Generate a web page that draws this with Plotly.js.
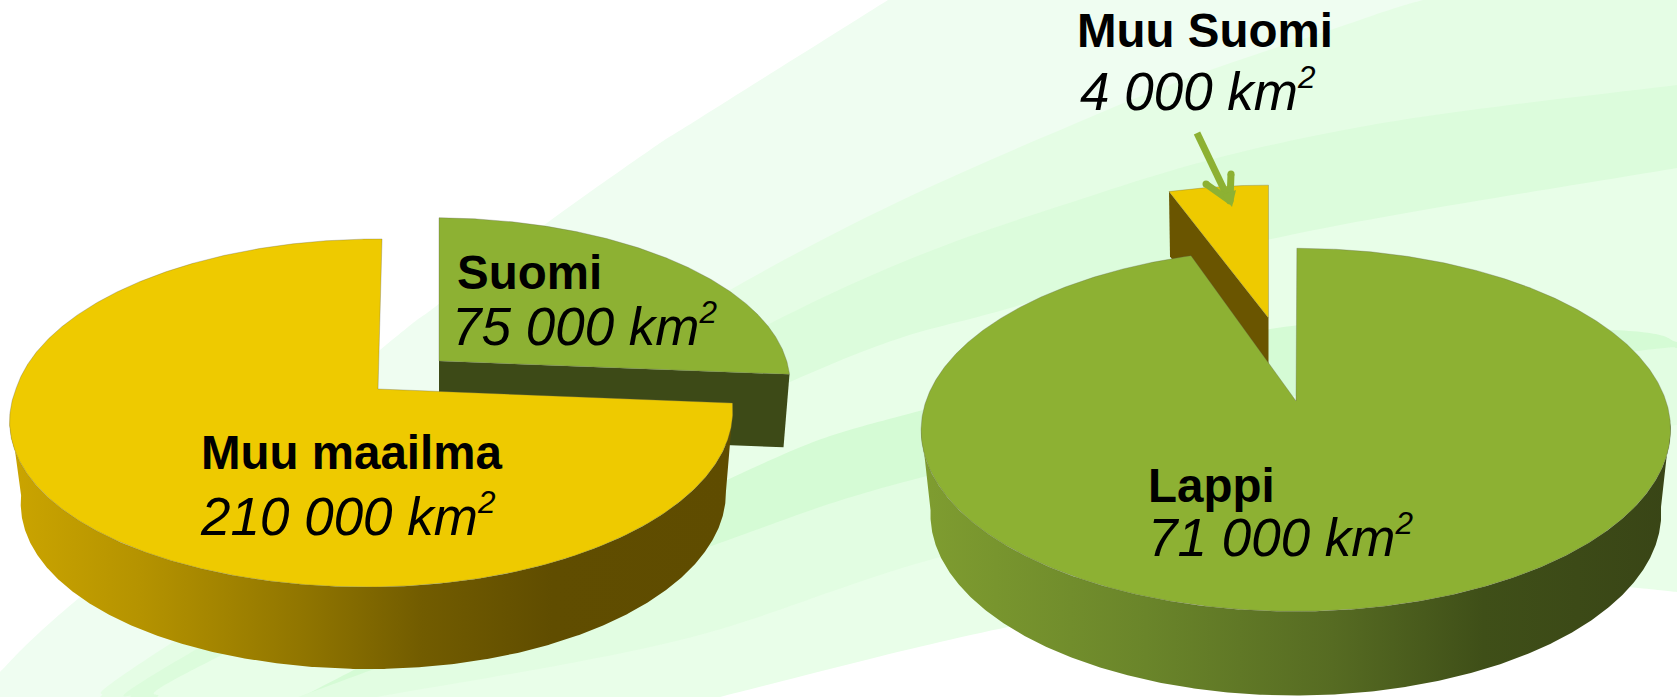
<!DOCTYPE html>
<html><head><meta charset="utf-8">
<script src="https://cdn.plot.ly/plotly-3.0.1.min.js"></script>
<style>html,body{margin:0;padding:0;background:#fff;overflow:hidden}#c{width:1677px;height:697px}</style>
</head><body><div id="c"></div>
<script>
// ---- data (km²) ----
const worldLabels = ["Suomi", "Muu maailma"];
const worldValues = [75000, 210000];
const finlandLabels = ["Muu Suomi", "Lappi"];
const finlandValues = [4000, 71000];

// ---- palette ----
const YELLOW = "#eeca00", GREEN = "#8db133", DARK_Y = "#6a5500", DARK_G = "#3d4a17";
const WALL_Y = [[0,"#cba500"],[0.18,"#b59300"],[0.4,"#917600"],[0.57,"#725c00"],[0.75,"#604d00"],[1,"#5f4c00"]];
const WALL_G = [[0,"#7f9d30"],[0.3,"#6a852a"],[0.55,"#566b22"],[0.75,"#3f4f18"],[1,"#394516"]];

// ---- perspective view of each disc ----
const viewMain   = {ax:378,  ay:389, A:357,   B:170.7, C:-4.6, k:0.138, m:0.014, F:13};
const viewSuomi  = {ax:439,  ay:361, A:354,   B:163,   C:0,    k:0.138, m:0.018, F:0};
const viewLappi  = {ax:1296, ay:401, A:370,   B:177,   C:-1,   k:0.159, m:0,     F:0};
const viewMuuS   = {ax:1268.5,ay:318,A:348,   B:154,   C:0,    k:0.159, m:0,     F:0};
const depthMain  = {dx:2, dy:82, s:0.975};
const depthLappi = {dx:0, dy:84, s:0.975};

function project(v, deg, d) {
  const a = deg * Math.PI / 180, u = Math.sin(a), w = -Math.cos(a);
  const den = 1 - v.k * w + v.m * u, s = d ? d.s : 1;
  const bulge = v.F * Math.max(-u, 0) * Math.max(w, 0);
  return [v.ax + (d ? d.dx : 0) + s * (v.A * u + v.C * w) / den - bulge,
          v.ay + (d ? d.dy : 0) + v.B * w / den];
}
function arc(v, from, to, d) {
  const n = Math.max(2, Math.ceil(Math.abs(to - from) * 3)), pts = [];
  for (let i = 0; i <= n; i++) pts.push(project(v, from + (to - from) * i / n, d));
  return pts;
}
function face(name, pts, color) {
  return {name, type:"scatter", mode:"lines", x:pts.map(p=>p[0]), y:pts.map(p=>p[1]), fill:"toself",
    fillcolor:color, line:{color:"rgba(95,95,80,0.5)", width:0.6}, hoverinfo:"skip", showlegend:false};
}
function wedge(name, v, from, to, color) {
  return face(name, [[v.ax, v.ay]].concat(arc(v, from, to), [[v.ax, v.ay]]), color);
}
function sideWall(name, v, from, to, d, scale) {
  const a = Math.max(from, 97), b = Math.min(to, 262);
  const pts = arc(v, a, b, d).concat(arc(v, b, a));
  pts.push(pts[0]);
  return {name, type:"scatter", mode:"lines", x:pts.map(p=>p[0]), y:pts.map(p=>p[1]), fill:"toself",
    fillgradient:{type:"horizontal", colorscale:scale}, line:{width:0, color:"rgba(0,0,0,0)"},
    hoverinfo:"skip", showlegend:false};
}
function cutWall(name, v, deg, dx, dy, color) {
  const c = project(v, deg);
  const pts = [[v.ax,v.ay], c, [c[0]+dx,c[1]+dy], [v.ax,v.ay+dy], [v.ax,v.ay]];
  return {name, type:"scatter", mode:"lines", x:pts.map(p=>p[0]), y:pts.map(p=>p[1]), fill:"toself",
    fillcolor:color, line:{width:0, color:color}, hoverinfo:"skip", showlegend:false};
}

// angles from the values, clockwise from 12 o'clock
const wTot = worldValues[0] + worldValues[1], wEnd = 360 * worldValues[0] / wTot;
const fTot = finlandValues[0] + finlandValues[1], fCut = 360 * finlandValues[0] / fTot;

const traces = [
  cutWall("Suomi cut", viewSuomi, wEnd, -6, 73, DARK_G),
  wedge(worldLabels[0], viewSuomi, 0, wEnd, GREEN),
  sideWall("Muu maailma side", viewMain, wEnd, 360, depthMain, WALL_Y),
  wedge(worldLabels[1], viewMain, wEnd, 360, YELLOW),
  cutWall("Muu Suomi cut", viewMuuS, -fCut, 1, 65, DARK_Y),
  wedge(finlandLabels[0], viewMuuS, -fCut, 0, YELLOW),
  sideWall("Lappi side", viewLappi, 0, 360 - fCut, depthLappi, WALL_G),
  wedge(finlandLabels[1], viewLappi, 0, 360 - fCut, GREEN),
  {name:"pointer shaft", type:"scatter", mode:"lines", x:[1197,1229], y:[133,200],
   line:{color:GREEN, width:7}, hoverinfo:"skip", showlegend:false},
  {name:"pointer head", type:"scatter", mode:"lines+markers", x:[1206,1230,1231], y:[184,201,174],
   line:{color:GREEN, width:7}, marker:{color:GREEN, size:7}, hoverinfo:"skip", showlegend:false},
  {name:"pointer tip", type:"scatter", mode:"lines", x:[1232,1222,1236,1232], y:[207,195,190,207], fill:"toself",
   fillcolor:GREEN, line:{width:0, color:GREEN}, hoverinfo:"skip", showlegend:false}
];

// ---- background swooshes ----
function smooth(p) {
  let s = "";
  for (let i = 0; i < p.length - 1; i++) {
    const a = p[Math.max(i-1,0)], b = p[i], c = p[i+1], d = p[Math.min(i+2,p.length-1)];
    s += ` C${b[0]+(c[0]-a[0])/6},${b[1]+(c[1]-a[1])/6} ${c[0]-(d[0]-b[0])/6},${c[1]-(d[1]-b[1])/6} ${c[0]},${c[1]}`;
  }
  return s;
}
function band(p, color, tail) {
  return {type:"path", xref:"x", yref:"y", layer:"below", line:{width:0}, fillcolor:color,
    path:`M${p[0][0]},${p[0][1]}` + smooth(p) + tail.map(t=>` L${t[0]},${t[1]}`).join("") + " Z"};
}
const TR=[[1677,0],[1677,697]], BR=[[1677,697]];
const shapes = [
  band([[0,672],[80,597],[380,350],[435,307],[547,223],[650,150],[700,118],[888,0]], "#effdf1", TR.concat([[0,697]])),
  band([[100,697],[173,642],[730,290],[1100,113],[1360,20],[1423,0]], "#e5fde5", TR),
  band([[130,697],[190,653],[773,322],[1100,193],[1360,127],[1677,85]], "#dcfcdc", BR),
  band([[157,697],[222,655],[790,382],[1010,308],[1290,235],[1677,168]], "#e8fee8", BR),
  band([[302,697],[727,480],[923,410],[1300,325],[1613,330],[1677,342]], "#d5fbd5", BR),
  band([[298,697],[700,550],[923,477],[1300,395],[1630,352],[1677,348]], "#e2fde2", BR),
  band([[377,697],[680,640],[940,557],[1300,470],[1677,425]], "#e9fee9", BR),
  band([[720,697],[940,642],[1100,610],[1300,580],[1500,575],[1628,587],[1677,592]], "#ffffff", BR)
];

// ---- labels ----
const fmt = v => String(v).replace(/\B(?=(\d{3})+$)/g, " ");
const FONT = "'Liberation Sans', Arial, sans-serif";
function name(t, x, y) {
  return {text:"<b>"+t+"</b>", x, y, xref:"x", yref:"y", xanchor:"left", yanchor:"middle", showarrow:false,
    font:{family:FONT, size:47.5, color:"#000"}};
}
function amount(v, x, y) {
  return {text:"<i>"+fmt(v)+" km<sup><span style=\"font-size:85%\">2</span></sup></i>", x, y, xref:"x", yref:"y",
    xanchor:"left", yanchor:"middle", showarrow:false, font:{family:FONT, size:53, color:"#000"}};
}
const annotations = [
  name(worldLabels[1], 199, 452), amount(worldValues[1], 198, 515),
  name(worldLabels[0], 455, 272), amount(worldValues[0], 450, 325),
  name(finlandLabels[1], 1146, 485), amount(finlandValues[1], 1146, 536),
  name(finlandLabels[0], 1075, 30), amount(finlandValues[0], 1078, 90)
];

Plotly.newPlot("c", traces, {
  width:1677, height:697, margin:{l:0,r:0,t:0,b:0}, showlegend:false, hovermode:false,
  paper_bgcolor:"#fff", plot_bgcolor:"rgba(0,0,0,0)",
  xaxis:{range:[0,1677], visible:false, fixedrange:true},
  yaxis:{range:[697,0], visible:false, fixedrange:true},
  shapes, annotations
}, {staticPlot:true, displayModeBar:false});
</script></body></html>
